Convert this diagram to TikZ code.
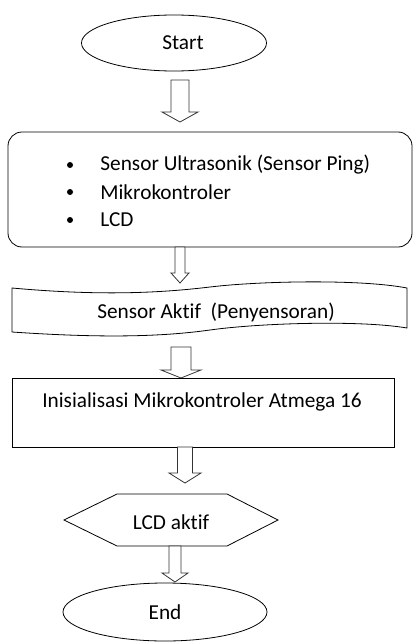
\documentclass[tikz,border=0pt]{standalone}
\usepackage{fontspec}
\setmainfont{Carlito}[Ligatures={NoCommon}]
\usetikzlibrary{shapes.geometric}
\newcommand\blockarrow[6]{%
  \draw[blockarr] (#1-#3,#2) -- (#1+#3,#2) -- (#1+#3,#5) -- (#1+#4,#5) -- (#1,#6) -- (#1-#4,#5) -- (#1-#3,#5) -- cycle;}
\begin{document}
\begin{tikzpicture}[x=1pt,y=-1pt,line width=0.8pt,
  every node/.style={font=\fontsize{21.3}{24}\selectfont, inner sep=0pt, text=black},
  term/.style={draw, ellipse, line width=0.8pt},
  blockarr/.style={draw=black!80, line width=0.8pt, fill=white},
  txt/.style={anchor=west},
  bul/.style={circle, fill=black, minimum size=6pt}]
\useasboundingbox (0,0) rectangle (413,642);

% Start
\node[term, minimum width=185pt, minimum height=56pt,
      label={[xshift=9pt]center:Start}] (start) at (174,43) {};

% arrow 1
\blockarrow{180}{80}{9}{18}{112}{122}

% box with bullets
\node[draw, rounded corners=14pt, minimum width=404pt, minimum height=115pt] (box) at (210,189.5) {};
\node[bul] (b1) at (70,165) {};
\node[bul] (b2) at (70,192) {};
\node[bul] (b3) at (70,220) {};
\node[txt] (t1) at (100,165) {Sensor Ultrasonik (Sensor Ping)};
\node[txt] (t2) at (100,192) {Mikrokontroler};
\node[txt] (t3) at (100,220) {LCD};

% arrow 2
\blockarrow{180}{247}{5}{9}{273}{283}

% sensor aktif (wavy)
\draw (12,288) .. controls (100,296) and (160,293) .. (210,287)
      .. controls (260,281) and (360,279) .. (407,288)
      -- (407,328)
      .. controls (360,320) and (260,323) .. (210,330)
      .. controls (160,337) and (100,338) .. (12,332) -- cycle;
\node (sensor) at (216,312) {Sensor Aktif\ \ (Penyensoran)};

% arrow 3
\blockarrow{181}{347}{10}{20}{370}{378}

% init
\node[draw, minimum width=382pt, minimum height=69pt] (init) at (203,412.5) {};
\node (inittxt) at (202,402) {Inisialisasi Mikrokontroler Atmega 16};

% arrow 4
\blockarrow{185}{447}{7.5}{16}{473}{483}

% LCD aktif hexagon
\draw (64,520) -- (117,494) -- (227,494) -- (278,520) -- (227,546) -- (117,546) -- cycle;
\node (lcd) at (171,522) {LCD aktif};

% arrow 5
\blockarrow{175}{546}{6}{13}{573}{582}

% End
\node[term, minimum width=204pt, minimum height=58pt,
      label={center:End}] (endn) at (165,612) {};
\end{tikzpicture}
\end{document}
